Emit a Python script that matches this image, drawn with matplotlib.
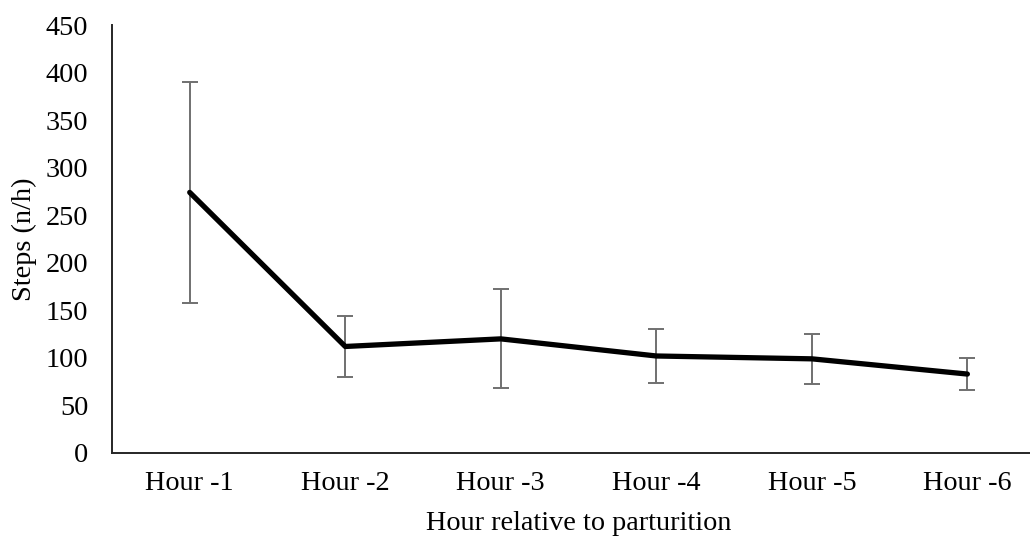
import matplotlib.pyplot as plt
import numpy as np

# values
hours = ['Hour -1', 'Hour -2', 'Hour -3', 'Hour -4', 'Hour -5', 'Hour -6']
steps = [274, 112, 120, 102, 99, 83]
steps_err = [116, 32, 52, 28, 26, 17]

plt.rcParams['font.family'] = ['Liberation Serif', 'DejaVu Serif']

fig = plt.figure(figsize=(10.3, 5.38), dpi=100)
ax = fig.add_axes([0.1087, 0.158, 0.906, 0.7955])

x = np.arange(len(hours))
ax.errorbar(x, steps, yerr=steps_err, fmt='none', ecolor='#707070',
            elinewidth=1.4, capsize=6, capthick=1.4, zorder=2)
ax.plot(x, steps, color='black', linewidth=3.8, solid_capstyle='round',
        solid_joinstyle='round', zorder=3)

ax.set_xlim(-0.5, len(hours) - 0.5)
ax.set_ylim(0, 450)
ax.set_yticks(np.arange(0, 451, 50))
ax.set_xticks(x)
ax.set_xticklabels(hours)
ax.tick_params(length=0, labelsize=20.3, colors='black')
ax.tick_params(axis='x', pad=13)
ax.tick_params(axis='y', pad=17)

ax.spines['top'].set_visible(False)
ax.spines['right'].set_visible(False)
for s in ['left', 'bottom']:
    ax.spines[s].set_linewidth(1.4)
    ax.spines[s].set_color('#262626')

ax.set_ylabel('Steps (n/h)', fontsize=20.3, labelpad=6)
ax.set_xlabel('Hour relative to parturition', fontsize=20.3, labelpad=11)

fig.savefig('out.png', dpi=100)
